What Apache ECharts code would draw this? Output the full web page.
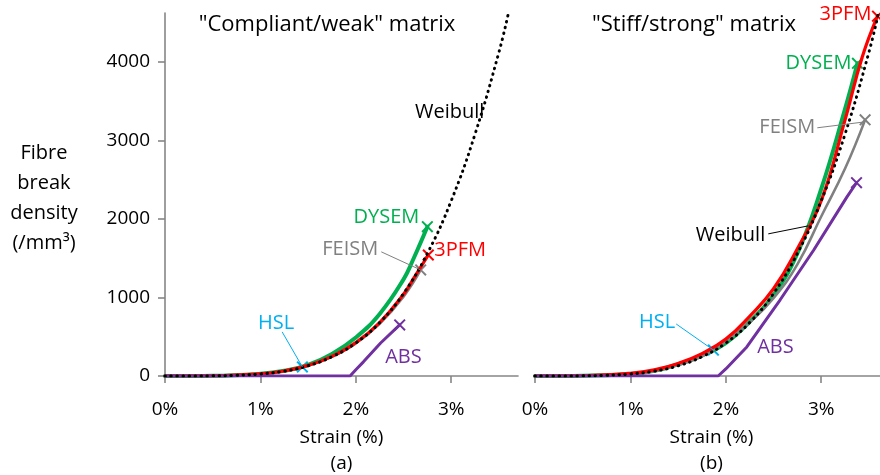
<!DOCTYPE html>
<html>
<head>
<meta charset="utf-8">
<script src="https://cdn.jsdelivr.net/npm/echarts@6/dist/echarts.min.js"></script>
<style>
  html, body { margin: 0; padding: 0; background: #fff; }
  #chart { width: 880px; height: 475px; }
</style>
</head>
<body>
<div id="chart"></div>
<script>
// Fibre break density (/mm³) versus strain (%), points as [strain, density]

// Weibull prediction (same model drawn in both panels)
const weibull = [[0,0],[0.25,0],[0.5,2],[0.75,9],[1.0,26],[1.25,62],[1.5,130],[1.75,245],[2.0,420],[2.25,680],[2.5,1050],[2.75,1560],[3.0,2230],[3.25,3080],[3.5,4120],[3.6,4620]];

// (a) "Compliant/weak" matrix
const hslA   = [[0,0],[0.5,2],[1.0,27],[1.25,64],[1.44,115]];
const dysemA = [[0,0],[0.5,2],[1.0,28],[1.25,66],[1.5,140],[1.75,280],[2.0,490],[2.25,790],[2.5,1230],[2.6,1480],[2.75,1900]];
const feismA = [[0,0],[0.5,2],[1.0,27],[1.25,63],[1.5,132],[1.75,245],[2.0,415],[2.25,665],[2.5,1010],[2.68,1350]];
const pfmA   = [[0,0],[0.5,2],[1.0,27],[1.25,64],[1.5,135],[1.75,250],[2.0,425],[2.25,680],[2.5,1040],[2.6,1230],[2.76,1540]];
const absA   = [[0,0],[1.94,0],[2.0,80],[2.08,180],[2.26,420],[2.46,650]];

// (b) "Stiff/strong" matrix
const hslB   = [[0,0],[0.5,2],[1.0,30],[1.25,70],[1.5,150],[1.75,260],[1.87,330]];
const dysemB = [[0,0],[0.5,2],[1.0,25],[1.25,65],[1.5,150],[1.75,260],[2.0,420],[2.25,690],[2.5,1030],[2.75,1560],[3.0,2380],[3.25,3400],[3.38,3980]];
const feismB = [[0,0],[0.5,2],[1.0,25],[1.25,62],[1.5,140],[1.75,250],[2.0,440],[2.25,680],[2.5,990],[2.75,1420],[3.0,2030],[3.25,2640],[3.46,3260]];
const pfmB   = [[0,0],[0.5,3],[1.0,34],[1.25,78],[1.5,160],[1.75,285],[2.0,470],[2.25,760],[2.5,1110],[2.75,1620],[3.0,2230],[3.25,3260],[3.43,4060],[3.59,4580]];
const absB   = [[0,0],[1.92,0],[2.0,90],[2.22,370],[2.57,970],[2.92,1600],[3.27,2280],[3.37,2460]];

// Axes
const strainTicks  = [0, 1, 2, 3];
const densityTicks = [0, 1000, 2000, 3000, 4000];
const panelTitles  = ['"Compliant/weak" matrix', '"Stiff/strong" matrix'];
const panelTags    = ['(a)', '(b)'];
const densityName  = 'Fibre\nbreak\ndensity\n(/mm³)';

const C = {
  green: '#00b050', red: '#ff0000', grey: '#808080',
  purple: '#7030a0', cyan: '#00b0f0', black: '#000000', axis: '#868686'
};
const FONT = '"Open Sans", "Noto Sans", sans-serif';
const CROSS = 'path://M0,1.4 L1.4,0 L6,4.6 L10.6,0 L12,1.4 L7.4,6 L12,10.6 L10.6,12 L6,7.4 L1.4,12 L0,10.6 L4.6,6 Z';

function curve(name, pts, color, width, gi, opts) {
  opts = opts || {};
  const n = pts.length;
  return {
    name, type: 'line', xAxisIndex: gi, yAxisIndex: gi,
    symbol: 'none', showSymbol: true,
    smooth: opts.smooth === undefined ? 0.45 : opts.smooth,
    silent: true, animation: false, z: opts.z || 2,
    lineStyle: Object.assign({ color, width, cap: 'round', join: 'round' }, opts.lineStyle || {}),
    itemStyle: { color },
    data: pts.map((p, i) => (i === n - 1 && opts.marker !== false)
      ? { value: p, symbol: CROSS, symbolSize: 12, itemStyle: { color } }
      : p)
  };
}

function weibullLine(gi) {
  return curve('Weibull', weibull, C.black, 3, gi, {
    marker: false, z: 6, lineStyle: { type: [0.5, 5.5], cap: 'round' }
  });
}

const xAxisBase = (gi) => ({
  gridIndex: gi, type: 'value', min: 0, max: 3.7,
  axisLine: { show: true, onZero: false, lineStyle: { color: C.axis, width: 1.6 } },
  axisTick: { show: true, length: 7, lineStyle: { color: C.axis, width: 1.6 }, customValues: strainTicks },
  axisLabel: { color: '#000', fontFamily: FONT, fontSize: 19, margin: 24, customValues: strainTicks,
               formatter: v => v + '%' },
  splitLine: { show: false },
  name: 'Strain (%)\n' + panelTags[gi], nameLocation: 'middle', nameGap: 49,
  nameTextStyle: { color: '#000', fontFamily: FONT, fontSize: 19, lineHeight: 26 }
});

const chart = echarts.init(document.getElementById('chart'), null, { renderer: 'canvas' });

const option = {
  backgroundColor: '#ffffff',
  animation: false,
  title: panelTitles.map((t, i) => ({
    text: t, left: i === 0 ? 322 : 689, top: 9, textAlign: 'center',
    textStyle: { color: '#000', fontFamily: FONT, fontSize: 22, fontWeight: 'normal' }
  })),
  grid: [
    { left: 165, top: 13, width: 353, height: 363, outerBoundsMode: 'none', containLabel: false },
    { left: 535, top: 13, width: 353, height: 363, outerBoundsMode: 'none', containLabel: false }
  ],
  xAxis: [xAxisBase(0), xAxisBase(1)],
  yAxis: [
    {
      gridIndex: 0, type: 'value', min: 0, max: 4620,
      axisLine: { show: true, lineStyle: { color: C.axis, width: 1.6 } },
      axisTick: { show: true, length: 7, lineStyle: { color: C.axis, width: 1.6 }, customValues: densityTicks },
      axisLabel: { color: '#000', fontFamily: FONT, fontSize: 19, margin: 15, customValues: densityTicks,
                   formatter: v => String(v) },
      splitLine: { show: false }
    },
    {
      gridIndex: 1, type: 'value', min: 0, max: 4620, show: false,
      splitLine: { show: false }
    }
  ],
  series: [
    curve('HSL', hslA, C.cyan, 2, 0, { z: 1 }),
    curve('DYSEM', dysemA, C.green, 4, 0, { z: 2 }),
    curve('FEISM', feismA, C.grey, 2.6, 0, { z: 3 }),
    curve('3PFM', pfmA, C.red, 3.2, 0, { z: 4 }),
    curve('ABS', absA, C.purple, 3, 0, { z: 5, smooth: false }),
    weibullLine(0),

    curve('HSL', hslB, C.cyan, 2, 1, { z: 1 }),
    curve('DYSEM', dysemB, C.green, 4, 1, { z: 2 }),
    curve('FEISM', feismB, C.grey, 2.6, 1, { z: 3 }),
    curve('3PFM', pfmB, C.red, 3.2, 1, { z: 4 }),
    curve('ABS', absB, C.purple, 3, 1, { z: 5, smooth: false }),
    weibullLine(1)
  ]
};
chart.setOption(option);

// Curve labels, placed in data units; optional leader line from the text to a curve point
const notes = [
  { gi: 0, text: 'Weibull', color: C.black,  at: [3.347, 3350], align: 'right' },
  { gi: 0, text: 'DYSEM',   color: C.green,  at: [2.665, 2025], align: 'right' },
  { gi: 0, text: 'FEISM',   color: C.grey,   at: [2.235, 1618], align: 'right', from: [2.267, 1580], to: feismA[feismA.length - 1] },
  { gi: 0, text: '3PFM',    color: C.red,    at: [2.823, 1605], align: 'left' },
  { gi: 0, text: 'HSL',     color: C.cyan,   at: [0.976, 675],  align: 'left',  from: [1.228, 561], to: hslA[hslA.length - 1] },
  { gi: 0, text: 'ABS',     color: C.purple, at: [2.308, 242],  align: 'left' },

  { gi: 1, text: '3PFM',    color: C.red,    at: [3.526, 4599], align: 'right' },
  { gi: 1, text: 'DYSEM',   color: C.green,  at: [3.316, 3975], align: 'right' },
  { gi: 1, text: 'FEISM',   color: C.grey,   at: [2.938, 3159], align: 'right', from: [2.959, 3159], to: [3.43, 3230] },
  { gi: 1, text: 'Weibull', color: C.black,  at: [2.413, 1796], align: 'right', from: [2.445, 1809], to: [2.865, 1911] },
  { gi: 1, text: 'HSL',     color: C.cyan,   at: [1.469, 688],  align: 'right', from: [1.480, 662], to: hslB[hslB.length - 1] },
  { gi: 1, text: 'ABS',     color: C.purple, at: [2.329, 369],  align: 'left' }
];

const graphics = [];
notes.forEach(nt => {
  const p = chart.convertToPixel({ gridIndex: nt.gi }, nt.at);
  graphics.push({
    type: 'text', x: p[0], y: p[1], z: 10, silent: true,
    style: { text: nt.text, fill: nt.color, font: '20px ' + FONT, align: nt.align, verticalAlign: 'middle' }
  });
  if (nt.from) {
    const a = chart.convertToPixel({ gridIndex: nt.gi }, nt.from);
    const b = chart.convertToPixel({ gridIndex: nt.gi }, nt.to);
    graphics.push({
      type: 'line', z: 9, silent: true,
      shape: { x1: a[0], y1: a[1], x2: b[0], y2: b[1] },
      style: { stroke: nt.color, lineWidth: 1 }
    });
  }
});

// Vertical-axis title, stacked on four centred lines left of the tick labels
graphics.push({
  type: 'text', x: 44, y: 138, z: 10, silent: true,
  style: { text: densityName, fill: '#000', font: '20px ' + FONT, lineHeight: 30,
           align: 'center', verticalAlign: 'top' }
});
chart.setOption({ graphic: graphics });
</script>
</body>
</html>
